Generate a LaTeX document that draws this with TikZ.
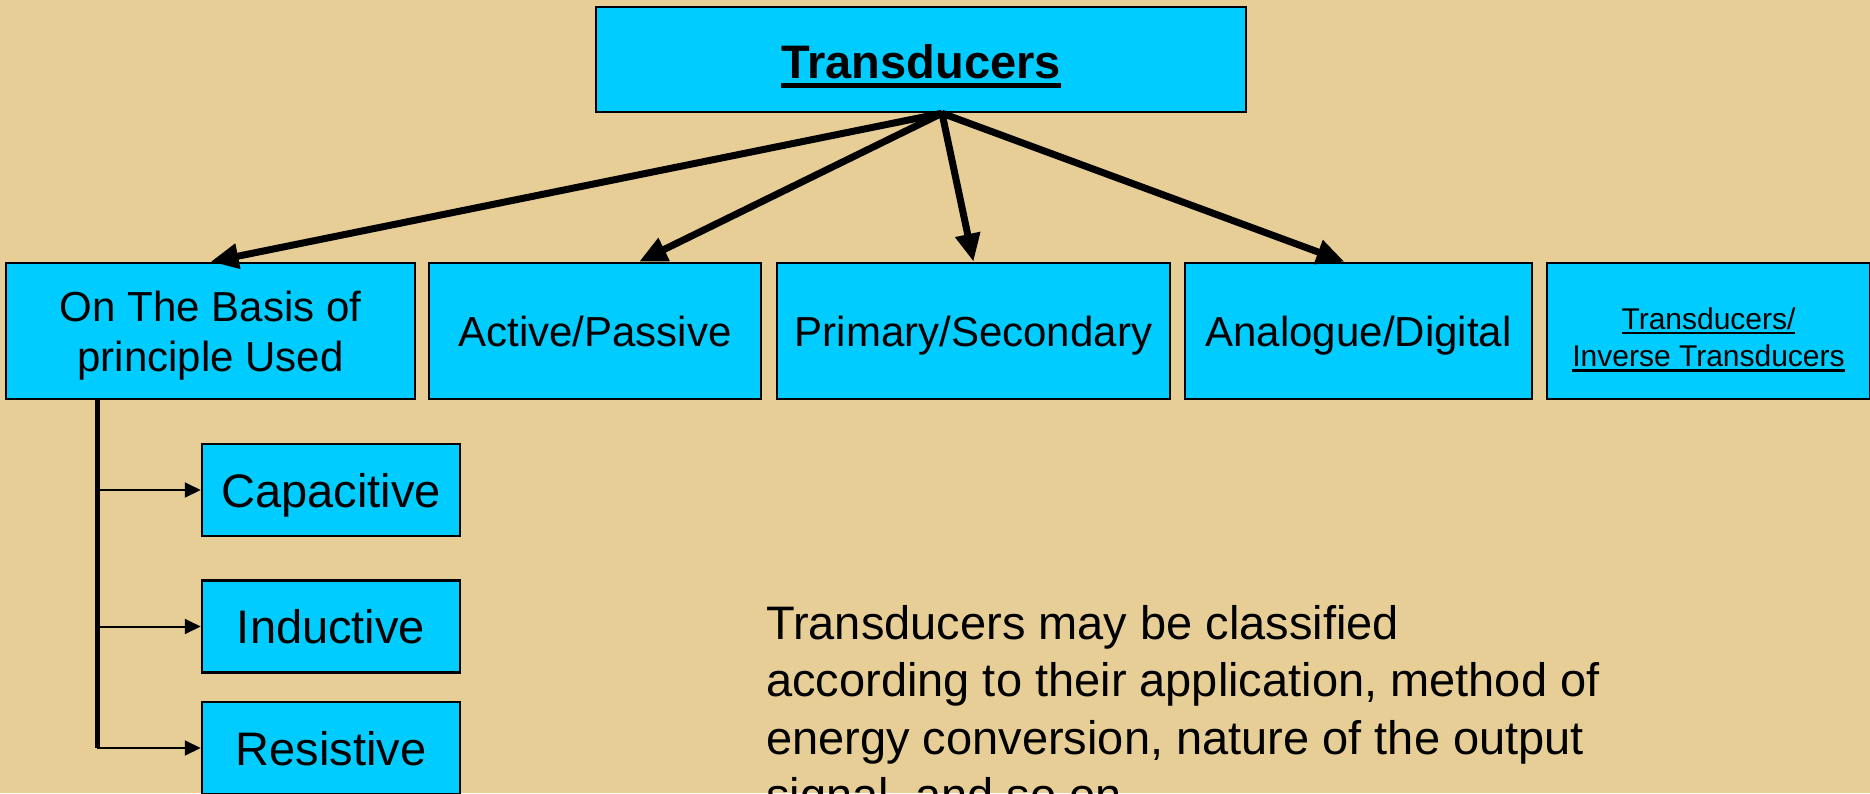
\documentclass[tikz,border=0pt]{standalone}
\usepackage{fontspec}
\setmainfont{Liberation Sans}
\usetikzlibrary{arrows.meta}
\definecolor{papyrus}{RGB}{230,206,150}
\definecolor{boxcyan}{RGB}{0,204,255}
\newcommand\myul[3]{\setbox0=\hbox{#3}\rlap{\rule[#1]{\wd0}{#2}}\box0}
\begin{document}
\begin{tikzpicture}[x=1pt,y=-1pt,
  box/.style={draw=black,line width=2.5pt,fill=boxcyan,inner sep=0pt,align=center,text=black,text depth=0pt},
  lvl/.style={box,minimum height=136pt,font=\fontsize{42}{50}\selectfont},
  sub/.style={box,minimum width=258pt,minimum height=92pt,font=\fontsize{47}{56}\selectfont},
  big/.style={line width=7pt,-{Triangle[length=28pt,width=24pt]}},
  small/.style={line width=2pt,-{Triangle[length=16pt,width=15pt]}}]
\useasboundingbox (0,0) rectangle (1870,793);
\clip (0,0) rectangle (1870,793);
\fill[papyrus] (0,0) rectangle (1870,793);
% top
\node[box,minimum width=650pt,minimum height=105pt,font=\fontsize{47}{56}\selectfont\bfseries] (top) at (921,59.5) {\rule{0pt}{38pt}\myul{-9pt}{5pt}{Transducers}};
% level boxes
\node[lvl,minimum width=409pt] (b1) at (210.5,331) {On The Basis of\\principle Used};
\node[lvl,minimum width=332pt] (b2) at (595,331) {Active/Passive};
\node[lvl,minimum width=393pt] (b3) at (973.5,331) {Primary/Secondary};
\node[lvl,minimum width=347pt] (b4) at (1358.5,331) {Analogue/Digital};
\node[lvl,minimum width=323pt,font=\fontsize{30}{37.7}\selectfont] (b5) at (1708.5,331) {\rule{0pt}{34pt}\myul{-5pt}{2.5pt}{Transducers/}\\\myul{-5pt}{2.5pt}{Inverse Transducers}};
% sub boxes
\node[sub] (cap) at (331,490) {Capacitive};
\node[sub] (ind) at (331,626.5) {Inductive};
\node[sub] (res) at (331,748) {Resistive};
% arrows from top
\coordinate (apex) at ([xshift=21pt]top.south);
\draw[big] (apex) -- (b1.north);
\draw[big] (apex) -- ([xshift=44pt]b2.north);
\draw[big] (apex) -- (b3.north);
\draw[big] (apex) -- ([xshift=-14pt]b4.north);
% trunk
\coordinate (trunk) at ([xshift=-113.5pt]b1.south);
\draw[line width=5pt] (trunk) -- (trunk |- res.west);
\draw[small] (trunk |- cap.west) -- (cap.west);
\draw[small] (trunk |- ind.west) -- (ind.west);
\draw[small] (trunk |- res.west) -- (res.west);
% description
\node[anchor=north west,inner sep=0pt,align=left,font=\fontsize{47}{57.5}\selectfont] (desc) at (766,605) {Transducers may be classified\\according to their application, method of\\energy conversion, nature of the output\\signal, and so on.};
\end{tikzpicture}
\end{document}
